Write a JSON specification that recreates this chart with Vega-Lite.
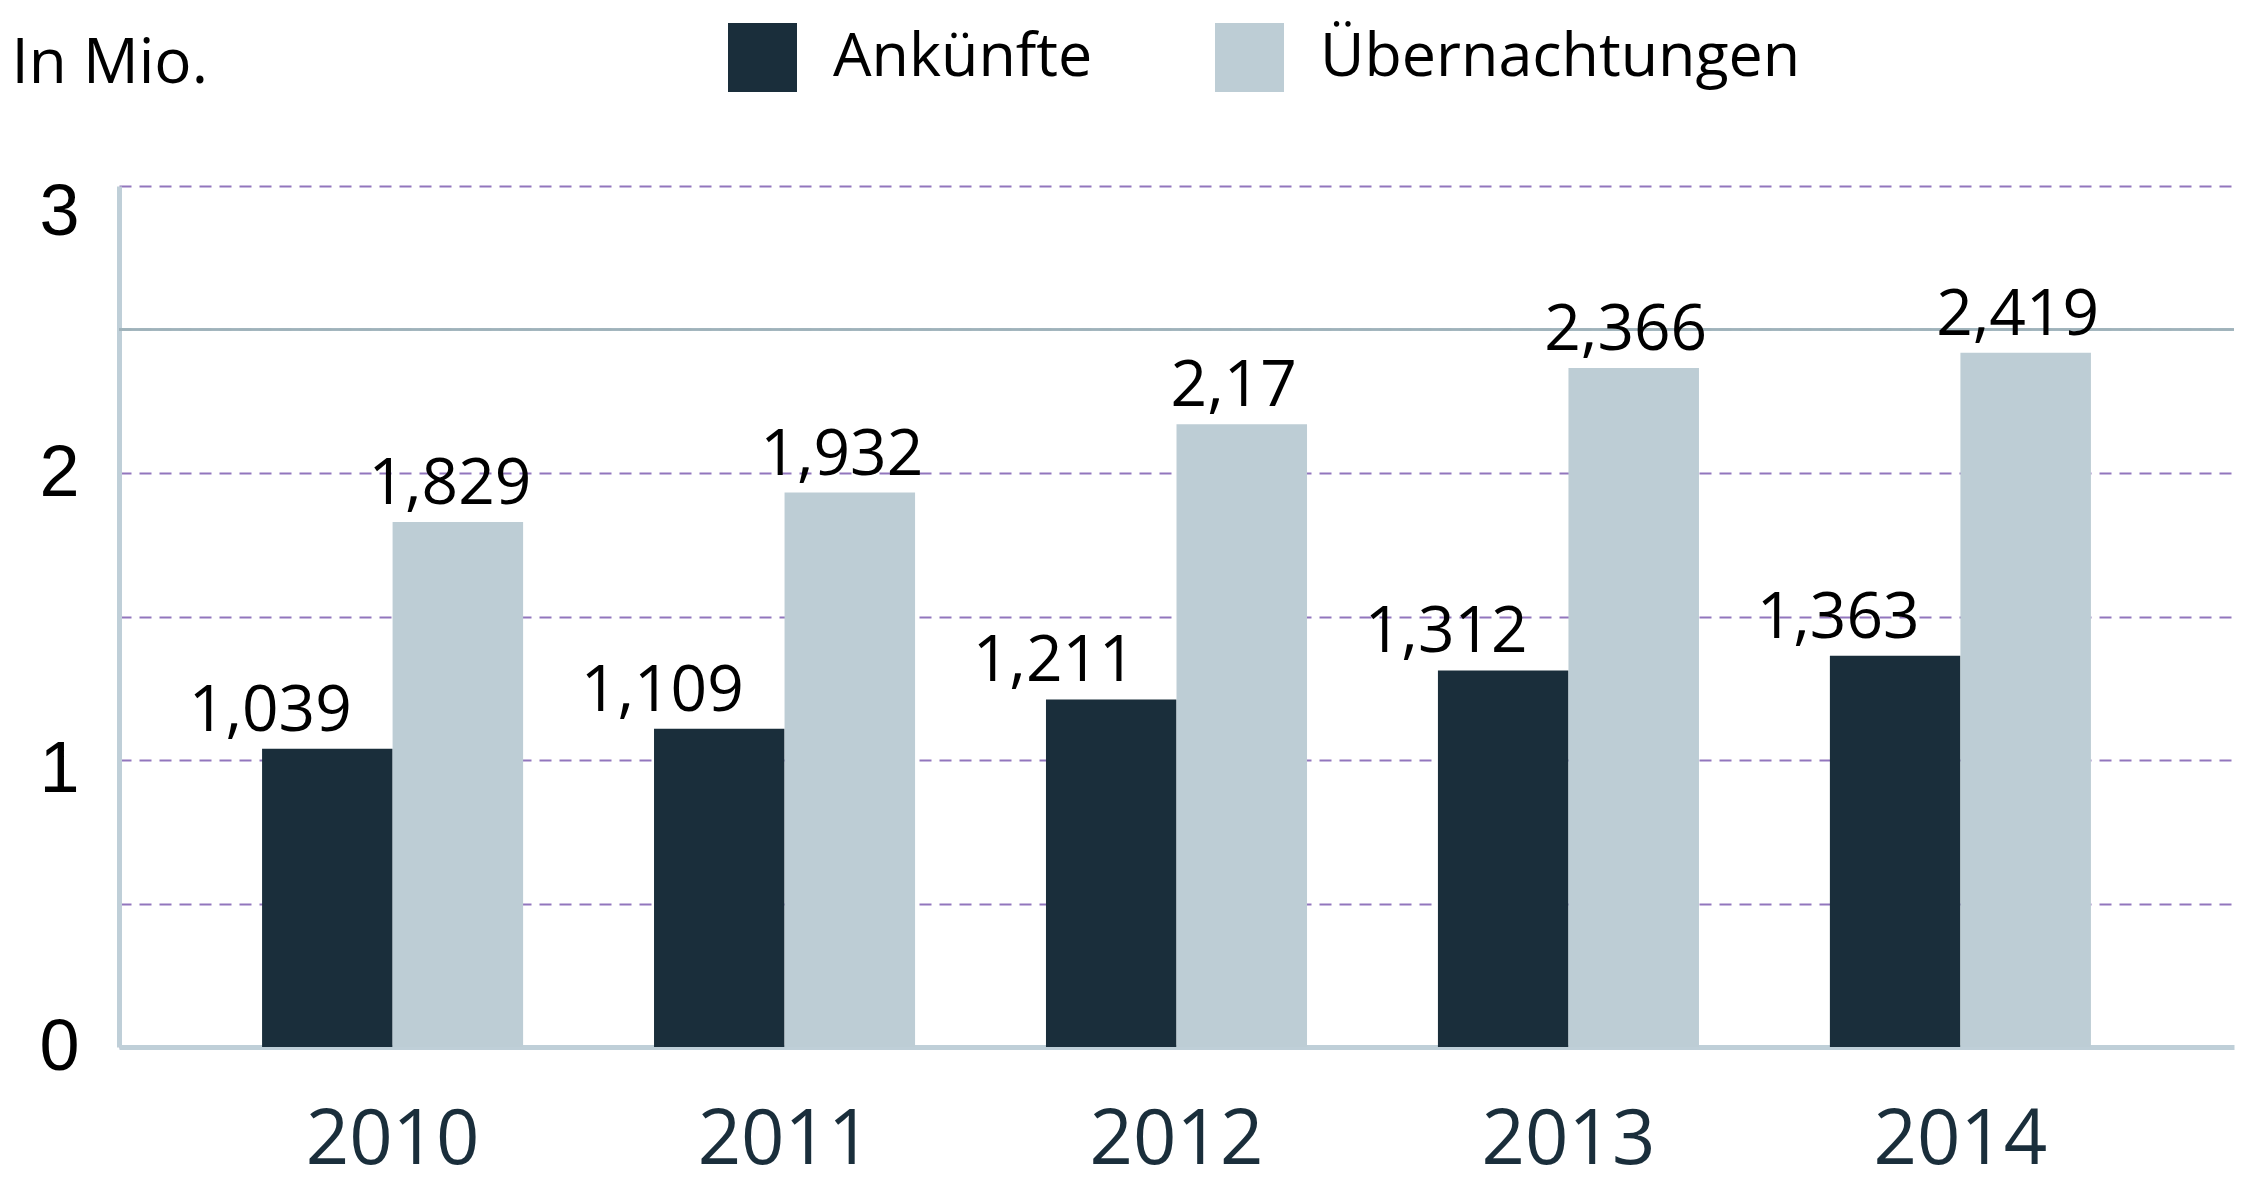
{
  "$schema": "https://vega.github.io/schema/vega-lite/v6.json",
  "autosize": {"type": "none"},
  "padding": {"left": 119, "top": 186, "right": 15, "bottom": 155},
  "width": 2115,
  "height": 861,
  "background": "white",
  "config": {
    "view": {"stroke": null},
    "locale": {"number": {"decimal": ",", "thousands": ".", "grouping": [3], "currency": ["", " €"]}}
  },
  "data": {
    "values": [
      {"year": "2010", "series": "Ankünfte", "value": 1.039},
      {"year": "2010", "series": "Übernachtungen", "value": 1.829},
      {"year": "2011", "series": "Ankünfte", "value": 1.109},
      {"year": "2011", "series": "Übernachtungen", "value": 1.932},
      {"year": "2012", "series": "Ankünfte", "value": 1.211},
      {"year": "2012", "series": "Übernachtungen", "value": 2.17},
      {"year": "2013", "series": "Ankünfte", "value": 1.312},
      {"year": "2013", "series": "Übernachtungen", "value": 2.366},
      {"year": "2014", "series": "Ankünfte", "value": 1.363},
      {"year": "2014", "series": "Übernachtungen", "value": 2.419}
    ]
  },
  "encoding": {
    "x": {
      "field": "year", "type": "nominal",
      "scale": {"paddingInner": 0.334, "paddingOuter": 0.365},
      "axis": {
        "title": null, "labelAngle": 0, "ticks": false,
        "labelFont": "Open Sans", "labelFontSize": 76, "labelColor": "#1a2e3b",
        "labelPadding": 56, "labelBaseline": "top",
        "domainColor": "#bfcfd8", "domainWidth": 5, "grid": false
      }
    },
    "y": {
      "field": "value", "type": "quantitative",
      "scale": {"domain": [0, 3], "nice": false},
      "axis": {
        "values": [0, 0.5, 1, 1.5, 2, 2.5, 3],
        "labelExpr": "datum.value % 1 == 0 ? format(datum.value, 'd') : ''",
        "labelOffset": {"condition": [{"test": "datum.value == 3", "value": 26}, {"test": "datum.value == 1", "value": 9}], "value": 0},
        "ticks": false,
        "labelFont": "Liberation Sans", "labelFontSize": 72, "labelColor": "#000000",
        "labelPadding": 40,
        "domainColor": "#bfcfd8", "domainWidth": 5,
        "grid": true, "gridColor": "#9276bd", "gridDash": [12, 8], "gridWidth": 1.8,
        "title": "In Mio.", "titleAngle": 0, "titleAlign": "left", "titleBaseline": "alphabetic",
        "titleX": -108, "titleY": -104,
        "titleFont": "Open Sans", "titleFontSize": 62, "titleFontWeight": "normal", "titleColor": "#000000"
      }
    }
  },
  "layer": [
    {
      "mark": {"type": "rule", "color": "#9fb2ba", "strokeWidth": 1.5},
      "encoding": {"y": {"datum": 2.5}, "x": {"value": 0}, "x2": {"value": 2115}}
    },
    {
      "mark": {"type": "bar", "opacity": 1},
      "encoding": {
        "xOffset": {"field": "series", "type": "nominal", "scale": {"paddingInner": 0, "paddingOuter": 0}},
        "color": {
          "field": "series", "type": "nominal",
          "scale": {"domain": ["Ankünfte", "Übernachtungen"], "range": ["#1a2e3b", "#bdcdd5"]},
          "legend": {
            "orient": "none", "legendX": 609, "legendY": -163,
            "direction": "horizontal", "title": null,
            "symbolType": "square", "symbolSize": 4761, "symbolStrokeWidth": 0, "symbolOpacity": 1,
            "labelFont": "Open Sans", "labelFontSize": 61, "labelColor": "#000000",
            "labelOffset": 36, "columnPadding": 122, "padding": 0, "labelLimit": 1000
          }
        }
      }
    },
    {
      "transform": [{"filter": "datum.series == 'Ankünfte'"}],
      "mark": {"type": "text", "font": "Open Sans", "fontSize": 64, "color": "#000000", "baseline": "alphabetic", "dy": -18, "dx": -57},
      "encoding": {
        "xOffset": {"field": "series", "type": "nominal", "scale": {"domain": ["Ankünfte", "Übernachtungen"]}},
        "text": {"field": "value", "type": "quantitative", "format": ".3~f"}
      }
    },
    {
      "transform": [{"filter": "datum.series == 'Übernachtungen'"}],
      "mark": {"type": "text", "font": "Open Sans", "fontSize": 64, "color": "#000000", "baseline": "alphabetic", "dy": -18, "dx": -8},
      "encoding": {
        "xOffset": {"field": "series", "type": "nominal", "scale": {"domain": ["Ankünfte", "Übernachtungen"]}},
        "text": {"field": "value", "type": "quantitative", "format": ".3~f"}
      }
    }
  ]
}
